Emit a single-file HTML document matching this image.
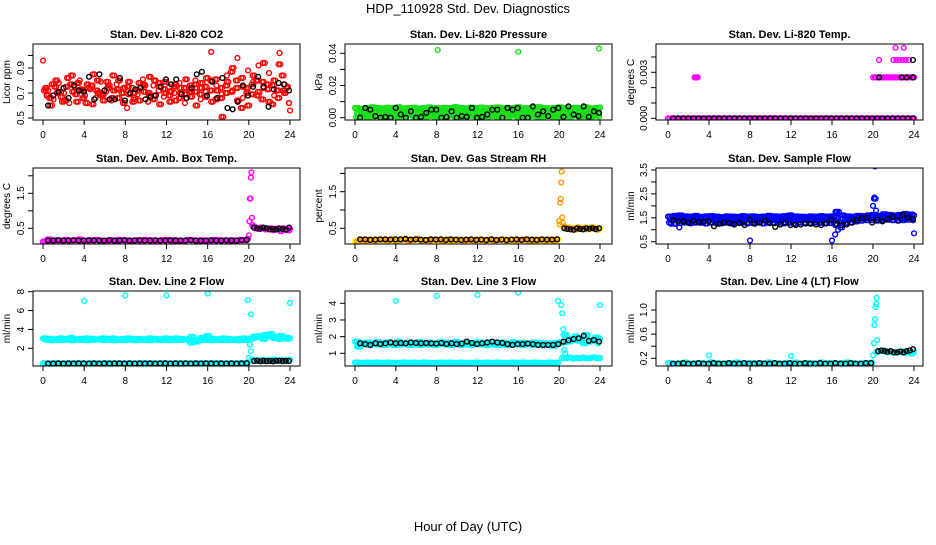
<!DOCTYPE html>
<html><head><meta charset="utf-8"><style>
body{margin:0;background:#fff}
svg text{font-family:"Liberation Sans",sans-serif}
</style></head><body>
<svg id="fig" width="936" height="540" viewBox="0 0 936 540" xmlns="http://www.w3.org/2000/svg">
<rect x="0" y="0" width="936" height="540" fill="#fff"/>
<text x="468" y="13" text-anchor="middle" font-size="13">HDP_110928  Std. Dev. Diagnostics</text>
<text x="468" y="531" text-anchor="middle" font-size="13">Hour of Day (UTC)</text>
</svg>
<script>
// ---------- data ----------
const xTicks=[0,4,8,12,16,20,24];
// Panel 1: CO2
const co2Red1=[0.96,0.72,0.65,0.78,0.70,0.62,0.75,0.80,0.68,0.73,0.66,0.79,0.71,0.64,0.77,0.70,0.58,0.74,0.69,0.81,0.63,0.76,0.72,0.67,0.75,0.70,0.78,0.62,0.73,0.80,0.65,0.71,1.03,0.76,0.69,0.84,0.72,0.98,0.66,0.88,0.79,0.92,0.74,0.86,0.68,1.02,0.77,0.56];
const co2Red2=[0.74,0.60,0.80,0.67,0.75,0.84,0.63,0.72,0.77,0.61,0.80,0.69,0.74,0.84,0.66,0.62,0.79,0.70,0.64,0.76,0.83,0.68,0.61,0.79,0.71,0.64,0.70,0.81,0.67,0.60,0.78,0.82,0.63,0.72,0.51,0.79,0.90,0.64,0.75,0.60,0.84,0.71,0.94,0.63,0.80,0.93,0.70,0.62];
const co2Red3=[0.68,0.77,0.70,0.63,0.82,0.71,0.78,0.66,0.74,0.85,0.70,0.64,0.76,0.72,0.80,0.74,0.69,0.65,0.78,0.71,0.68,0.80,0.75,0.70,0.63,0.77,0.74,0.69,0.76,0.71,0.74,0.67,0.80,0.65,0.74,0.70,0.87,0.80,0.58,0.74,0.69,0.80,0.65,0.77,0.61,0.72,0.84,0.74];
const co2Red4=[0.72,0.66,0.75,0.71,0.64,0.77,0.69,0.73,0.62,0.76,0.72,0.68,0.79,0.66,0.73,0.70,0.75,0.63,0.72,0.77,0.70,0.65,0.78,0.73,0.68,0.75,0.66,0.74,0.71,0.77,0.69,0.75,0.72,0.81,0.66,0.76,0.71,0.74,0.82,0.70,0.77,0.68,0.79,0.73,0.76,0.66,0.72,0.75];
const co2Black=[0.60,0.68,0.71,0.74,0.66,0.76,0.72,0.71,0.83,0.65,0.85,0.72,0.65,0.65,0.82,0.64,0.70,0.73,0.74,0.65,0.67,0.68,0.75,0.81,0.77,0.81,0.69,0.66,0.74,0.85,0.87,0.68,0.79,0.66,0.82,0.58,0.57,0.63,0.76,0.68,0.75,0.83,0.75,0.59,0.73,0.78,0.77,0.72];
// Panel 2: Pressure
const prG1=[0.006,0.0055,0.006,0.0065,0.006,0.0058,0.0062,0.006,0.0065,0.0058,0.006,0.0062,0.0057,0.006,0.0064,0.006,0.0059,0.0061,0.006,0.0066,0.006,0.0058,0.0062,0.006,0.0063,0.0059,0.006,0.0064,0.0058,0.0061,0.006,0.0065,0.0059,0.006,0.0062,0.0066,0.006,0.0058,0.0061,0.0064,0.006,0.0059,0.0062,0.006,0.0065,0.0058,0.006,0.0063];
const prG2=[0.003,0.0035,0.0028,0.0032,0.004,0.0026,0.0033,0.003,0.0038,0.0027,0.0031,0.0036,0.0029,0.0034,0.003,0.0041,0.0028,0.0032,0.0035,0.003,0.0027,0.0037,0.0031,0.0029,0.0034,0.003,0.0039,0.0028,0.0033,0.0031,0.0036,0.0029,0.0032,0.004,0.003,0.0027,0.0035,0.0031,0.0038,0.0029,0.0033,0.003,0.0036,0.0028,0.0034,0.0031,0.0037,0.003];
const prG3=[0.0005,0.001,0.0003,0.0008,0.0012,0.0004,0.0007,0.001,0.0002,0.0009,0.0014,0.0005,0.0008,0.0003,0.0011,0.0006,0.001,0.0004,0.0013,0.0007,0.0002,0.0009,0.0012,0.0005,0.0008,0.0004,0.0011,0.0006,0.001,0.0003,0.0014,0.0007,0.0005,0.0009,0.0012,0.0004,0.0008,0.0011,0.0003,0.0007,0.001,0.0005,0.0013,0.0006,0.0009,0.0004,0.0012,0.0007];
const prOutH=[8.1,16.0,23.9], prOutV=[0.042,0.041,0.043];
const prBlack=[0,0.006,0.005,0.001,0,0.0005,0,0.006,0.002,0,0.004,0,0.0005,0.003,0.005,0.005,0,0.0005,0.004,0,0.001,0.0005,0.006,0,0.0005,0.002,0.005,0.005,0,0.006,0.005,0.006,0,0,0.007,0.002,0.004,0.001,0.005,0.006,0.0005,0.007,0.002,0.001,0.007,0.0005,0.004,0.003];
// Panel 3: Li-820 Temp
const tpMagBase=[0,0,0,0,0,0,0,0,0,0,0,0,0,0,0,0,0,0,0,0,0,0,0,0,0,0,0,0,0,0,0,0,0,0,0,0,0,0,0,0,0,0,0,0,0,0,0,0];
const tpMagHigh=[0.00267,0.00267,0.00267,0.00267,0.00267,0.00267,0.00267,0.00267,0.00267,0.00267,0.00267,0.00267,0.00267,0.00267,0.00267,0.00267];
const tpMagOutH=[2.6,2.7,2.8,2.9,20.6,22.0,22.3,22.6,22.9,23.2,23.5,22.2,23.0];
const tpMagOutV=[0.00267,0.00267,0.00267,0.00267,0.0038,0.0038,0.0038,0.0038,0.0038,0.0038,0.0038,0.0046,0.0046];
const tpBlack=[0,0,0,0,0,0,0,0,0,0,0,0,0,0,0,0,0,0,0,0,0,0,0,0,0,0,0,0,0,0,0,0,0,0,0,0,0,0,0,0,0,0,0,0,0,0,0,0];
const tpBlackOutH=[20.6,22.8,23.3,23.9,23.9], tpBlackOutV=[0.00267,0.00267,0.00267,0.00267,0.0038];
// Panel 4: Amb. Box Temp
const abMagPre=[0.12,0.18,0.15,0.16,0.14,0.17,0.15,0.16,0.18,0.14,0.15,0.16,0.17,0.15,0.14,0.16,0.15,0.17,0.16,0.15,0.14,0.16,0.15,0.17,0.16,0.15,0.14,0.16,0.17,0.15,0.16,0.14,0.15,0.17,0.16,0.15,0.16,0.14,0.15,0.17,0.16,0.15,0.14,0.16,0.15,0.17,0.16,0.2];
const abMagPost=[0.55,0.5,0.48,0.52,0.5,0.47,0.49,0.5,0.45,0.48,0.5,0.42,0.5,0.47,0.44,0.48];
const abSpikeH=[20.0,20.05,20.1,20.15,20.2,20.25,20.3,20.35], abSpikeV=[0.3,0.7,1.35,1.35,1.95,2.1,0.8,0.6];
const abBlackPre=[0.15,0.15,0.16,0.15,0.15,0.16,0.15,0.15,0.16,0.15,0.15,0.15,0.16,0.15,0.15,0.16,0.15,0.15,0.16,0.15,0.15,0.16,0.15,0.15,0.16,0.15,0.15,0.15,0.16,0.15,0.14,0.15,0.16,0.15,0.15,0.16,0.15,0.15,0.16,0.17];
const abBlackPost=[0.52,0.5,0.49,0.52,0.5,0.47,0.48,0.47,0.49,0.48,0.46,0.52];
// Panel 5: Gas Stream RH
const rhPre=[0.14,0.18,0.17,0.2,0.16,0.19,0.18,0.17,0.2,0.16,0.18,0.19,0.17,0.18,0.21,0.16,0.18,0.17,0.19,0.18,0.16,0.2,0.17,0.18,0.19,0.16,0.18,0.17,0.2,0.18,0.16,0.19,0.17,0.18,0.2,0.16,0.19,0.17,0.18,0.2,0.17,0.16,0.19,0.18,0.17,0.19,0.16,0.2];
const rhPost=[0.55,0.5,0.52,0.48,0.5,0.47,0.53,0.5,0.48,0.52,0.47,0.5,0.53,0.49,0.46,0.5];
const rhSpikeH=[20.0,20.05,20.1,20.15,20.2,20.25,20.3,20.35], rhSpikeV=[0.7,0.6,1.2,1.3,1.75,2.05,0.8,0.65];
const rhBlackPre=[0.2,0.2,0.18,0.19,0.2,0.2,0.19,0.2,0.2,0.21,0.19,0.2,0.19,0.18,0.2,0.19,0.2,0.18,0.2,0.19,0.18,0.19,0.2,0.18,0.19,0.18,0.2,0.18,0.19,0.18,0.19,0.2,0.18,0.2,0.19,0.18,0.2,0.19,0.19,0.2];
const rhBlackPost=[0.5,0.48,0.47,0.46,0.5,0.48,0.47,0.5,0.49,0.5,0.48,0.5];
// Panel 6: Sample Flow
const sfB1=[1.55,1.58,1.6,1.56,1.55,1.58,1.54,1.56,1.57,1.55,1.53,1.56,1.55,1.54,1.57,1.55,1.56,1.54,1.55,1.58,1.56,1.55,1.57,1.6,1.56,1.55,1.54,1.56,1.55,1.57,1.55,1.56,1.75,1.6,1.56,1.55,1.58,1.57,1.6,1.62,1.58,1.65,1.62,1.6,1.62,1.66,1.64,1.6];
const sfB2=[1.42,1.4,1.38,1.43,1.41,1.39,1.42,1.4,1.44,1.41,1.38,1.4,1.42,1.39,1.41,1.43,1.4,1.38,1.42,1.4,1.41,1.39,1.42,1.4,1.38,1.41,1.43,1.4,1.39,1.42,1.4,1.38,1.5,1.3,1.4,1.42,1.45,1.48,1.5,1.52,1.5,1.48,1.5,1.52,1.5,1.48,1.52,1.5];
const sfB3=[1.3,1.25,1.28,1.3,1.27,1.3,1.29,1.26,1.3,1.28,1.27,1.3,1.26,1.29,1.3,1.27,1.28,1.3,1.26,1.29,1.28,1.3,1.27,1.29,1.26,1.3,1.28,1.27,1.3,1.29,1.26,1.28,1.2,1.1,1.28,1.3,1.35,1.38,1.4,1.4,1.38,1.4,1.42,1.4,1.38,1.4,1.42,1.4];
const sfOutH=[0.3,1.1,8.0,16.0,16.3,16.6,16.4,20.0,20.1,20.15,20.2,20.25,20.3,24.0];
const sfOutV=[1.25,1.1,0.55,0.55,0.8,1.0,1.75,2.0,2.3,2.35,3.65,2.3,1.8,0.85];
const sfBlack=[1.4,1.35,1.35,1.3,1.38,1.32,1.33,1.34,1.15,1.25,1.3,1.28,1.22,1.28,1.2,1.42,1.25,1.3,1.38,1.28,1.12,1.22,1.3,1.2,1.2,1.22,1.26,1.25,1.22,1.2,1.28,1.42,1.25,1.2,1.22,1.3,1.4,1.48,1.5,1.3,1.42,1.35,1.45,1.55,1.4,1.62,1.5,1.45];
// Panel 7: Line 2 Flow
const l2Up1=[3.05,3.0,2.95,3.05,3.0,3.1,2.95,3.0,3.05,3.0,2.95,3.05,3.0,3.05,2.95,3.0,3.05,3.0,3.0,2.95,3.05,3.0,2.95,3.05,3.0,3.05,3.0,2.95,3.2,2.9,3.1,3.3,3.0,2.95,3.05,3.0,2.9,3.0,3.05,3.0,3.25,3.3,3.4,3.5,3.2,3.3,3.1,3.05];
const l2Up2=[2.9,2.85,2.9,2.88,2.92,2.85,2.9,2.88,2.85,2.9,2.92,2.87,2.9,2.85,2.9,2.88,2.92,2.86,2.9,2.88,2.85,2.92,2.88,2.9,2.86,2.9,2.88,2.92,2.6,2.7,2.9,2.88,2.85,2.9,2.88,2.86,2.92,2.85,2.88,2.9,3.1,3.2,3.0,3.3,3.1,3.0,3.05,3.0];
const l2LowPre=[0.42,0.4,0.45,0.4,0.42,0.4,0.44,0.42,0.4,0.43,0.42,0.4,0.44,0.4,0.42,0.41,0.43,0.4,0.42,0.44,0.4,0.42,0.41,0.43,0.4,0.42,0.44,0.41,0.4,0.42,0.43,0.4,0.42,0.44,0.41,0.42,0.4,0.43,0.42,0.45];
const l2LowPost=[0.8,0.75,0.72,0.78,0.7,0.74,0.8,0.72,0.76,0.7,0.75,0.8];
const l2OutH=[4.0,8.0,12.0,16.0,19.9,20.2,20.1,20.2,20.0,24.0], l2OutV=[7.0,7.6,7.6,7.8,7.1,5.6,2.4,1.7,1.0,6.8];
const l2BlackPre=[0.38,0.38,0.4,0.38,0.4,0.38,0.4,0.4,0.38,0.4,0.38,0.4,0.38,0.4,0.4,0.38,0.4,0.38,0.4,0.38,0.4,0.38,0.4,0.4,0.38,0.4,0.38,0.4,0.38,0.4,0.38,0.4,0.4,0.38,0.4,0.38,0.4,0.38,0.4,0.42];
const l2BlackPost=[0.65,0.68,0.62,0.66,0.64,0.65,0.62,0.66,0.68,0.64,0.66,0.65];
// Panel 8: Line 3 Flow
const l3Up1=[1.7,1.62,1.65,1.6,1.68,1.62,1.66,1.6,1.7,1.63,1.65,1.6,1.68,1.62,1.65,1.6,1.66,1.64,1.62,1.68,1.6,1.65,1.62,1.66,1.64,1.6,1.68,1.62,1.65,1.6,1.66,1.62,1.64,1.6,1.65,1.62,1.6,1.58,1.62,1.65,2.1,1.85,2.0,1.9,2.1,1.75,1.95,1.85];
const l3Up2=[1.4,1.55,1.5,1.55,1.52,1.5,1.55,1.5,1.52,1.55,1.5,1.53,1.5,1.55,1.52,1.5,1.55,1.52,1.5,1.55,1.5,1.53,1.5,1.55,1.52,1.5,1.55,1.5,1.52,1.5,1.55,1.52,1.5,1.55,1.5,1.52,1.48,1.5,1.45,1.6,1.65,1.7,1.8,1.75,1.6,1.7,1.8,1.6];
const l3LowPre=[0.45,0.42,0.44,0.43,0.45,0.42,0.44,0.43,0.42,0.45,0.43,0.44,0.42,0.45,0.43,0.42,0.44,0.43,0.45,0.42,0.44,0.43,0.42,0.45,0.43,0.44,0.42,0.45,0.43,0.42,0.44,0.43,0.45,0.42,0.44,0.43,0.42,0.45,0.43,0.44];
const l3LowPost=[0.72,0.7,0.75,0.68,0.72,0.7,0.74,0.7,0.72,0.76,0.7,0.72];
const l3OutH=[4.0,8.0,12.0,16.0,19.9,20.2,20.3,20.4,20.5,20.6,24.0], l3OutV=[4.15,4.45,4.5,4.65,4.15,3.9,3.4,2.45,1.2,1.0,3.9];
const l3Black=[1.6,1.55,1.5,1.6,1.55,1.6,1.65,1.6,1.62,1.6,1.65,1.62,1.6,1.62,1.6,1.58,1.62,1.55,1.6,1.55,1.58,1.7,1.62,1.55,1.6,1.65,1.7,1.65,1.62,1.55,1.5,1.55,1.55,1.58,1.55,1.5,1.5,1.5,1.5,1.55,1.7,1.78,1.85,1.9,2.05,1.75,1.8,1.7];
// Panel 9: Line 4 (LT) Flow
const l4Pre=[0.12,0.11,0.12,0.13,0.11,0.12,0.12,0.11,0.13,0.12,0.11,0.12,0.12,0.13,0.11,0.12,0.12,0.11,0.12,0.13,0.12,0.11,0.12,0.12,0.13,0.11,0.12,0.12,0.11,0.13,0.12,0.12,0.11,0.12,0.13,0.12,0.11,0.12,0.12,0.13];
const l4Post=[0.3,0.32,0.33,0.3,0.31,0.29,0.3,0.32,0.29,0.3,0.28,0.31];
const l4OutH=[4.0,12.0,20.0,20.1,20.15,20.2,20.25,20.3,20.35,20.4], l4OutV=[0.25,0.24,0.25,0.45,0.75,0.85,1.05,1.1,1.2,0.5];
const l4BlackPre=[0.11,0.11,0.12,0.11,0.11,0.12,0.11,0.11,0.12,0.11,0.11,0.12,0.11,0.11,0.12,0.11,0.11,0.12,0.11,0.11,0.12,0.11,0.11,0.12,0.11,0.11,0.12,0.11,0.11,0.12,0.11,0.11,0.12,0.11,0.11,0.12,0.11,0.11,0.12,0.12];
const l4BlackPost=[0.32,0.33,0.32,0.31,0.32,0.3,0.3,0.31,0.3,0.32,0.33,0.35];

// ---------- drawing ----------
const NS='http://www.w3.org/2000/svg';
const svg=document.getElementById('fig');
function mk(tag,attrs,parent){const e=document.createElementNS(NS,tag);for(const k in attrs)e.setAttribute(k,attrs[k]);(parent||svg).appendChild(e);return e;}
const RED='#ff0000',GRN='#19e019',MAG='#ff00ff',ORG='#ff9900',YEL='#ffff00',BLU='#0000ff',CYN='#00ffff',BLK='#000000';
const cols=[{b0:33,b1:300,x0:43,x24:290,yl:10},{b0:345,b1:612,x0:355,x24:600,yl:322},{b0:656,b1:923,x0:668,x24:914,yl:634}];
const rows=[{t:44,b:120,tt:38},{t:168,b:244,tt:162},{t:291,b:366,tt:285}];
const panels=[
 {r:0,c:0,title:'Stan. Dev. Li-820 CO2',ylab:'Licor ppm',v0:0.5,p0:118,v1:0.9,p1:68,ticks:[0.5,0.6,0.7,0.8,0.9,1.0],labs:{'0.5':'0.5','0.7':'0.7','0.9':'0.9'},
  s:[{c:RED,v:co2Red1,h0:0,h1:24},{c:RED,v:co2Red2,h0:0.2,h1:23.9,rep:2},{c:RED,v:co2Red3,h0:0.35,h1:23.7,rep:2},{c:RED,v:co2Red4,h0:0.1,h1:23.8,rep:2},{c:BLK,v:co2Black,h0:0.5,h1:23.9}]},
 {r:0,c:1,title:'Stan. Dev. Li-820 Pressure',ylab:'kPa',v0:0,p0:117.7,v1:0.04,p1:53.3,ticks:[0,0.01,0.02,0.03,0.04],labs:{'0':'0.00','0.02':'0.02','0.04':'0.04'},
  s:[{c:GRN,v:prG1,h0:0,h1:24,rep:3},{c:GRN,v:prG2,h0:0.2,h1:23.8,rep:3},{c:GRN,v:prG3,h0:0.1,h1:23.9,rep:3},{c:GRN,v:prOutV,h:prOutH},{c:BLK,v:prBlack,h0:0.5,h1:23.9}]},
 {r:0,c:2,title:'Stan. Dev. Li-820 Temp.',ylab:'degrees C',v0:0,p0:118.3,v1:0.003,p1:72.3,ticks:[0,0.001,0.002,0.003,0.004],labs:{'0':'0.000','0.003':'0.003'},
  s:[{c:MAG,v:tpMagBase,h0:0,h1:24,rep:3},{c:MAG,v:tpMagHigh,h0:20,h1:24,rep:2},{c:MAG,v:tpMagOutV,h:tpMagOutH},{c:BLK,v:tpBlack,h0:0.5,h1:23.9},{c:BLK,v:tpBlackOutV,h:tpBlackOutH}]},
 {r:1,c:0,title:'Stan. Dev. Amb. Box Temp.',ylab:'degrees C',v0:0.5,p0:228.3,v1:1.5,p1:193.3,ticks:[0.5,1.0,1.5,2.0],labs:{'0.5':'0.5','1.5':'1.5'},
  s:[{c:MAG,v:abMagPre,h0:0,h1:19.9,rep:3},{c:MAG,v:abMagPost,h0:20.4,h1:24,rep:2},{c:MAG,v:abSpikeV,h:abSpikeH},{c:BLK,v:abBlackPre,h0:0.5,h1:19.8},{c:BLK,v:abBlackPost,h0:20.5,h1:23.9}]},
 {r:1,c:1,title:'Stan. Dev. Gas Stream RH',ylab:'percent',v0:0.5,p0:228.3,v1:1.5,p1:191.7,ticks:[0.5,1.0,1.5,2.0],labs:{'0.5':'0.5','1.5':'1.5'},
  s:[{c:YEL,v:rhPre,h0:0,h1:19.9,rep:3},{c:ORG,v:rhPre,h0:0.2,h1:19.8,rep:2},{c:YEL,v:rhPost,h0:20.4,h1:24,rep:2},{c:ORG,v:rhPost,h0:20.5,h1:23.9},{c:ORG,v:rhSpikeV,h:rhSpikeH},{c:BLK,v:rhBlackPre,h0:0.5,h1:19.8},{c:BLK,v:rhBlackPost,h0:20.5,h1:23.9}]},
 {r:1,c:2,title:'Stan. Dev. Sample Flow',ylab:'ml/min',v0:0.5,p0:241.7,v1:3.5,p1:170,ticks:[0.5,1.0,1.5,2.0,2.5,3.0,3.5],labs:{'0.5':'0.5','1.5':'1.5','2.5':'2.5','3.5':'3.5'},
  s:[{c:BLU,v:sfB1,h0:0,h1:24,rep:3},{c:BLU,v:sfB2,h0:0.2,h1:23.8,rep:3},{c:BLU,v:sfB3,h0:0.1,h1:23.9,rep:2},{c:BLU,v:sfOutV,h:sfOutH},{c:BLK,v:sfBlack,h0:0.5,h1:23.9}]},
 {r:2,c:0,title:'Stan. Dev. Line 2 Flow',ylab:'ml/min',v0:2,p0:348.3,v1:8,p1:291.7,ticks:[2,4,6,8],labs:{'2':'2','4':'4','6':'6','8':'8'},
  s:[{c:CYN,v:l2Up1,h0:0,h1:24,rep:3},{c:CYN,v:l2Up2,h0:0.2,h1:23.8,rep:3},{c:CYN,v:l2LowPre,h0:0,h1:19.9,rep:3},{c:CYN,v:l2LowPost,h0:20.3,h1:24,rep:2},{c:CYN,v:l2OutV,h:l2OutH},{c:BLK,v:l2BlackPre,h0:0.5,h1:19.8},{c:BLK,v:l2BlackPost,h0:20.5,h1:23.9}]},
 {r:2,c:1,title:'Stan. Dev. Line 3 Flow',ylab:'ml/min',v0:1,p0:353.3,v1:4,p1:303.3,ticks:[1,2,3,4],labs:{'1':'1','2':'2','3':'3','4':'4'},
  s:[{c:CYN,v:l3Up1,h0:0,h1:24,rep:3},{c:CYN,v:l3Up2,h0:0.2,h1:23.8,rep:3},{c:CYN,v:l3LowPre,h0:0,h1:19.9,rep:3},{c:CYN,v:l3LowPost,h0:20.3,h1:24,rep:2},{c:CYN,v:l3OutV,h:l3OutH},{c:BLK,v:l3Black,h0:0.5,h1:23.9}]},
 {r:2,c:2,title:'Stan. Dev. Line 4 (LT) Flow',ylab:'ml/min',v0:0.2,p0:358.3,v1:1.0,p1:310,ticks:[0.2,0.4,0.6,0.8,1.0],labs:{'0.2':'0.2','0.6':'0.6','1':'1.0'},
  s:[{c:CYN,v:l4Pre,h0:0,h1:19.9,rep:3},{c:CYN,v:l4Post,h0:20.3,h1:24,rep:2},{c:CYN,v:l4OutV,h:l4OutH},{c:BLK,v:l4BlackPre,h0:0.5,h1:19.8},{c:BLK,v:l4BlackPost,h0:20.5,h1:23.9}]}
];
panels.forEach((p,pi)=>{
  const C=cols[p.c],R=rows[p.r];
  const g=mk('g',{});
  
  
  const xs=h=>C.x0+(C.x24-C.x0)*h/24;
  const ys=v=>p.p0+(p.p1-p.p0)*(v-p.v0)/(p.v1-p.v0);
  const cl=mk('clipPath',{id:'clip'+pi},g);
  mk('rect',{x:C.b0,y:R.t,width:C.b1-C.b0,height:R.b-R.t},cl);
  const pts=mk('g',{'clip-path':'url(#clip'+pi+')'},g);
  
  
  p.s.forEach(s=>{
    const n=s.v.length, reps=s.rep||1;
    for(let k=0;k<reps;k++){
      const shift=k*0.17;
      s.v.forEach((v,i)=>{
        let h=s.h?s.h[i]:(n>1?s.h0+(s.h1-s.h0)*i/(n-1):s.h0);
        h=Math.min(s.h1!==undefined?s.h1:24,h+shift);
        const c=mk('circle',{cx:xs(h).toFixed(1),cy:ys(v).toFixed(1),r:2.4,fill:'none',stroke:s.c,'stroke-width':1.4},pts);
        
        
      });
    }
  });
  const box=mk('rect',{x:C.b0,y:R.t,width:C.b1-C.b0,height:R.b-R.t,fill:'none',stroke:'#000','stroke-width':1},g);
  
  
  const t=mk('text',{x:(C.b0+C.b1)/2,y:R.tt,'text-anchor':'middle','font-size':11,'font-weight':'bold'},g);
  t.textContent=p.title;
  
  
  const xa=mk('g',{},g);
  
  
  mk('line',{x1:xs(0),x2:xs(24),y1:R.b,y2:R.b,stroke:'#000'},xa);
  xTicks.forEach(h=>{
    mk('line',{x1:xs(h),x2:xs(h),y1:R.b,y2:R.b+5,stroke:'#000'},xa);
    const tl=mk('text',{x:xs(h),y:R.b+18,'text-anchor':'middle','font-size':10},xa);
    tl.textContent=h;
    
    
  });
  const ya=mk('g',{},g);
  
  
  mk('line',{x1:C.b0,x2:C.b0,y1:ys(p.ticks[0]),y2:ys(p.ticks[p.ticks.length-1]),stroke:'#000'},ya);
  p.ticks.forEach(v=>{
    const y=ys(v);
    mk('line',{x1:C.b0-5,x2:C.b0,y1:y,y2:y,stroke:'#000'},ya);
    const key=String(+v.toFixed(4));
    if(p.labs[key]){
      const tl=mk('text',{x:0,y:0,'text-anchor':'middle','font-size':10,transform:'translate('+(C.b0-9)+','+y+') rotate(-90)'},ya);
      tl.textContent=p.labs[key];
      
      
    }
  });
  const yl=mk('text',{x:0,y:0,'text-anchor':'middle','font-size':10,transform:'translate('+C.yl+','+((R.t+R.b)/2)+') rotate(-90)'},g);
  yl.textContent=p.ylab;
  
  
});
</script>
</body></html>
